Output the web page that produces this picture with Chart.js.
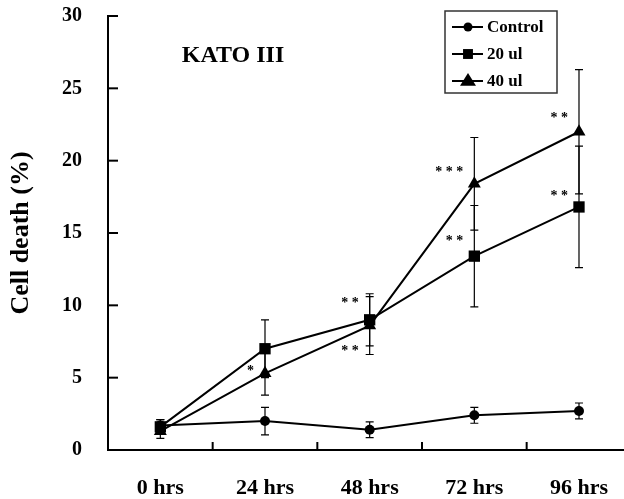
<!DOCTYPE html>
<html lang="en">
<head>
  <meta charset="UTF-8">
  <title>KATO III cell death</title>
  <script src="https://cdn.jsdelivr.net/npm/chart.js"></script>
  <style>
    body {
      margin: 0;
      background-color: #fff;
      overflow: hidden;
    }
    canvas {
      display: block;
    }
  </style>
</head>
<body>
  <canvas id="myChart" width="624" height="499"></canvas>

  <script>
    const categories = ['0 hrs', '24 hrs', '48 hrs', '72 hrs', '96 hrs'];
    const yTicks = [0, 5, 10, 15, 20, 25, 30];

    const controlMean = [1.7, 2.0, 1.4, 2.4, 2.7];
    const controlErr = [0.4, 0.95, 0.55, 0.55, 0.55];
    const ul20Mean = [1.6, 7.0, 9.0, 13.4, 16.8];
    const ul20Err = [0.5, 2.0, 1.8, 3.5, 4.2];
    const ul40Mean = [1.3, 5.3, 8.6, 18.4, 22.0];
    const ul40Err = [0.5, 1.5, 2.0, 3.2, 4.3];

    // significance marks: category index, value, text
    const starIndex = [1, 2, 2, 3, 3, 4, 4];
    const starValue = [5.7, 10.4, 7.1, 19.5, 14.7, 23.2, 17.8];
    const starText = ['*', '**', '**', '***', '**', '**', '**'];

    const serif = "'Times New Roman', 'Liberation Serif', serif";

    function points(arr) {
      return arr.map((v, i) => ({ x: i, y: v }));
    }

    function marker(ctx, style, r, x, y) {
      ctx.save();
      ctx.fillStyle = '#000';
      ctx.beginPath();
      if (style === 'circle') {
        ctx.arc(x, y, r, 0, Math.PI * 2);
      } else if (style === 'rect') {
        const s = r * Math.SQRT1_2;
        ctx.rect(x - s, y - s, 2 * s, 2 * s);
      } else {
        ctx.moveTo(x, y - r);
        ctx.lineTo(x + r, y + r * 0.6);
        ctx.lineTo(x - r, y + r * 0.6);
        ctx.closePath();
      }
      ctx.fill();
      ctx.restore();
    }

    const errorBars = {
      id: 'errorBars',
      beforeDatasetsDraw(chart) {
        const ctx = chart.ctx;
        const xs = chart.scales.x, ys = chart.scales.y;
        ctx.save();
        ctx.strokeStyle = '#000';
        ctx.lineWidth = 1.2;
        chart.data.datasets.forEach(ds => {
          ds.errors.forEach((e, i) => {
            const m = ds.data[i].y;
            const x = xs.getPixelForValue(i);
            const t = ys.getPixelForValue(m + e);
            const b = ys.getPixelForValue(m - e);
            ctx.beginPath();
            ctx.moveTo(x, t); ctx.lineTo(x, b);
            ctx.moveTo(x - 4, t); ctx.lineTo(x + 4, t);
            ctx.moveTo(x - 4, b); ctx.lineTo(x + 4, b);
            ctx.stroke();
          });
        });
        ctx.restore();
      }
    };

    const extras = {
      id: 'extras',
      afterDraw(chart) {
        const ctx = chart.ctx;
        const xs = chart.scales.x, ys = chart.scales.y;
        const area = chart.chartArea;
        ctx.save();
        ctx.strokeStyle = '#000';
        ctx.lineWidth = 2;
        // inward tick marks
        yTicks.forEach(v => {
          const y = ys.getPixelForValue(v);
          ctx.beginPath();
          ctx.moveTo(area.left, y); ctx.lineTo(area.left + 10, y);
          ctx.stroke();
        });
        for (let i = 0; i < categories.length - 1; i++) {
          const x = xs.getPixelForValue(i + 0.5);
          ctx.beginPath();
          ctx.moveTo(x, area.bottom); ctx.lineTo(x, area.bottom - 8);
          ctx.stroke();
        }

        // stars
        ctx.fillStyle = '#000';
        ctx.font = 'bold 14px ' + serif;
        ctx.textAlign = 'right';
        ctx.textBaseline = 'middle';
        starText.forEach((s, k) => {
          const x = xs.getPixelForValue(starIndex[k]) - 11;
          const y = ys.getPixelForValue(starValue[k]) + 4;
          ctx.fillText(s.split('').join(' '), x, y);
        });

        // panel title
        ctx.font = 'bold 24px ' + serif;
        ctx.textAlign = 'center';
        ctx.fillText('KATO III', 233, 56);

        // legend
        const box = { left: 445, top: 11, width: 112, height: 82 };
        ctx.lineWidth = 1.5;
        ctx.strokeStyle = '#333';
        ctx.strokeRect(box.left, box.top, box.width, box.height);
        ctx.font = 'bold 17px ' + serif;
        ctx.textAlign = 'left';
        chart.data.datasets.forEach((ds, k) => {
          const y = box.top + 16 + k * 27;
          ctx.strokeStyle = '#000';
          ctx.lineWidth = 2;
          ctx.beginPath();
          ctx.moveTo(box.left + 7, y); ctx.lineTo(box.left + 38, y);
          ctx.stroke();
          marker(ctx, ds.pointStyle, ds.legendRadius, box.left + 23, y);
          ctx.fillText(ds.label, box.left + 42, y + 1);
        });
        ctx.restore();
      }
    };

    const ctx = document.getElementById('myChart').getContext('2d');

    new Chart(ctx, {
      type: 'line',
      data: {
        datasets: [
          { label: 'Control', data: points(controlMean), errors: controlErr, pointStyle: 'circle', pointRadius: 5, legendRadius: 4.5 },
          { label: '20 ul', data: points(ul20Mean), errors: ul20Err, pointStyle: 'rect', pointRadius: 8, legendRadius: 7 },
          { label: '40 ul', data: points(ul40Mean), errors: ul40Err, pointStyle: 'triangle', pointRadius: 7.5, legendRadius: 8 }
        ].map(ds => Object.assign({
          borderColor: '#000',
          backgroundColor: '#000',
          pointBackgroundColor: '#000',
          pointBorderColor: '#000',
          borderWidth: 2,
          pointBorderWidth: 0,
          tension: 0,
          fill: false
        }, ds))
      },
      options: {
        responsive: false,
        animation: false,
        layout: { autoPadding: false, padding: { top: 16, right: 0, left: 0, bottom: 0 } },
        plugins: {
          legend: { display: false },
          tooltip: { enabled: false }
        },
        scales: {
          x: {
            type: 'linear',
            min: -0.5,
            max: 4.43,
            afterBuildTicks: scale => { scale.ticks = categories.map((c, i) => ({ value: i })); },
            afterFit: scale => { scale.height = 49; },
            grid: { drawOnChartArea: false, drawTicks: true, tickLength: 25, tickColor: 'rgba(0,0,0,0)' },
            border: { color: '#000', width: 2 },
            ticks: {
              padding: 0,
              color: '#000',
              font: { family: serif, size: 22, weight: 'bold' },
              callback: v => categories[v]
            }
          },
          y: {
            min: 0,
            max: 30,
            afterBuildTicks: scale => { scale.ticks = yTicks.map(v => ({ value: v })); },
            afterFit: scale => { scale.width = 108; },
            grid: { drawOnChartArea: false, drawTicks: true, tickLength: 26, tickColor: 'rgba(0,0,0,0)' },
            border: { color: '#000', width: 2 },
            ticks: {
              padding: 0,
              color: '#000',
              font: { family: serif, size: 20, weight: 'bold' }
            },
            title: {
              display: true,
              text: 'Cell death (%)',
              color: '#000',
              padding: { top: 6 },
              font: { family: serif, size: 26, weight: 'bold' }
            }
          }
        }
      },
      plugins: [errorBars, extras]
    });
  </script>
</body>
</html>
